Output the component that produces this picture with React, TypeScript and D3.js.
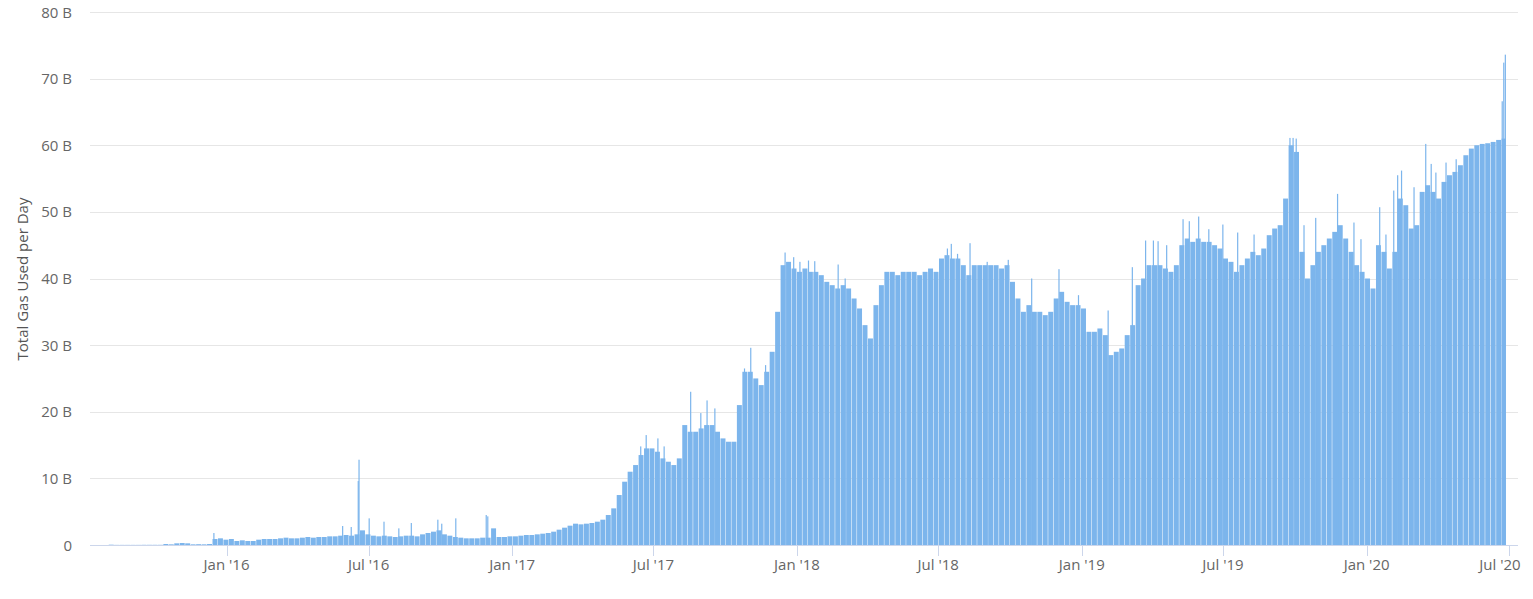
import React, { useEffect, useRef } from "react";
import * as d3 from "d3";

const WIDTH = 1533;
const HEIGHT = 599;

// first Monday of the weekly series, and the last day that has data
const firstWeek = "2015-08-03";
const lastDay = "2020-06-27";

// total gas used per day, billions, one level per week
const weeklyGas = [
  0.05, 0.02, 0.02, 0.02, 0.02, 0.02, 0.03, 0.03, 0.03, 0.03,
  0.15, 0.1, 0.25, 0.3, 0.25, 0.1, 0.12, 0.1, 0.15, 0.9,
  1.0, 0.8, 0.9, 0.6, 0.7, 0.6, 0.6, 0.8, 0.9, 0.9,
  0.9, 1.0, 1.1, 1.0, 1.0, 1.1, 1.2, 1.1, 1.2, 1.2,
  1.3, 1.3, 1.4, 1.5, 1.4, 1.6, 2.2, 1.6, 1.4, 1.3,
  1.4, 1.3, 1.2, 1.3, 1.4, 1.4, 1.3, 1.6, 1.8, 2.0,
  2.2, 1.6, 1.4, 1.2, 1.1, 1.0, 1.0, 1.0, 1.1, 1.1,
  2.5, 1.2, 1.2, 1.3, 1.3, 1.4, 1.5, 1.5, 1.6, 1.7,
  1.8, 2.0, 2.3, 2.6, 2.9, 3.2, 3.1, 3.2, 3.3, 3.5,
  3.8, 4.5, 5.5, 7.5, 9.5, 11, 12, 13.5, 14.5, 14.5,
  14, 13, 12.5, 12, 13, 18, 17, 17, 17.5, 18,
  18, 17, 16, 15.5, 15.5, 21, 26, 26, 25, 24,
  26, 29, 35, 42, 42.5, 41.5, 41, 41.5, 41, 41,
  40.5, 39.5, 39, 38.5, 39, 38.5, 37, 35.5, 33, 31,
  36, 39, 41, 41, 40.5, 41, 41, 41, 40.5, 41,
  41.5, 41, 43, 43.5, 43, 43, 42, 40.5, 42, 42,
  42, 42, 42, 41.5, 42, 39.5, 37, 35, 36, 35,
  35, 34.5, 35, 37, 38, 36.5, 36, 36, 35.5, 32,
  32, 32.5, 31.5, 28.5, 29, 29.5, 31.5, 33, 39, 40,
  42, 42, 42, 41.5, 41, 42, 45, 46, 45.5, 46,
  45.5, 45.5, 45, 44.5, 43, 42.5, 41, 42, 43, 44,
  43.5, 44.5, 46.5, 47.5, 48, 52, 60, 59, 44, 40,
  42, 44, 45, 46, 47, 48, 46, 44, 42, 41,
  40, 38.5, 45, 44, 41.5, 44, 52, 51, 47.5, 48,
  53, 54, 53, 52, 54.5, 55.5, 56, 57, 58.5, 59.5,
  60, 60.2, 60.3, 60.5, 60.8, 61,
];

// single days that stand out above their week
const spikeDays = [
  "2015-12-15", "2016-05-28", "2016-06-08", "2016-06-17", "2016-06-18",
  "2016-07-01", "2016-07-20", "2016-08-08", "2016-08-24", "2016-09-27",
  "2016-10-02", "2016-10-20", "2016-11-28", "2016-11-30", "2017-06-14",
  "2017-06-21", "2017-07-06", "2017-07-14", "2017-08-17", "2017-08-30",
  "2017-09-07", "2017-09-17", "2017-10-25", "2017-11-02", "2017-11-21",
  "2017-12-16", "2017-12-27", "2018-01-04", "2018-01-15", "2018-01-23",
  "2018-02-22", "2018-03-03", "2018-07-12", "2018-07-17", "2018-07-25",
  "2018-08-10", "2018-09-01", "2018-09-28", "2018-10-28", "2018-12-02",
  "2018-12-27", "2019-02-03", "2019-03-06", "2019-03-23", "2019-04-02",
  "2019-04-08", "2019-04-19", "2019-05-10", "2019-05-18", "2019-05-30",
  "2019-06-12", "2019-06-30", "2019-07-19", "2019-08-09", "2019-09-24",
  "2019-09-28", "2019-10-02", "2019-10-12", "2019-10-27", "2019-11-24",
  "2019-12-15", "2019-12-24", "2020-01-17", "2020-01-25", "2020-02-04",
  "2020-02-09", "2020-02-14", "2020-03-01", "2020-03-16", "2020-03-23",
  "2020-03-29", "2020-04-11", "2020-04-24", "2020-06-22", "2020-06-24",
  "2020-06-26",
];
const spikeGas = [
  1.8, 2.85, 2.7, 9.6, 12.8,
  4.0, 3.5, 2.5, 3.3, 3.8,
  3.2, 4.0, 4.5, 4.3, 14.8,
  16.5, 16.0, 14.8, 23.0, 19.8,
  21.7, 20.5, 26.5, 29.6, 27.0,
  43.9, 43.2, 42.5, 42.7, 42.6,
  42.1, 40.0, 44.5, 45.2, 43.7,
  45.3, 42.5, 42.8, 40.0, 41.4,
  37.5, 35.2, 41.7, 45.7, 45.7,
  45.6, 45.0, 48.9, 48.6, 49.3,
  47.4, 48.1, 46.9, 46.6, 61.1,
  61.1, 61.0, 48.0, 49.1, 52.7,
  48.4, 45.9, 50.7, 46.6, 53.2,
  55.5, 56.2, 53.7, 60.2, 57.2,
  55.9, 57.4, 57.9, 66.6, 72.4,
  73.6,
];

const yTicks = [0, 10, 20, 30, 40, 50, 60, 70, 80];
const xTickDates = [
  "2016-01-01", "2016-07-01", "2017-01-01", "2017-07-01", "2018-01-01",
  "2018-07-01", "2019-01-01", "2019-07-01", "2020-01-01", "2020-07-01",
];
const xTickLabels = [
  "Jan '16", "Jul '16", "Jan '17", "Jul '17", "Jan '18",
  "Jul '18", "Jan '19", "Jul '19", "Jan '20", "Jul '20",
];

const FONT = "'Open Sans', 'Liberation Sans', Arial, sans-serif";
const BAR = "#7cb5ec";

const GasChart: React.FC = () => {
  const svgRef = useRef<SVGSVGElement>(null);

  useEffect(() => {
    if (!svgRef.current) return;
    const svg = d3.select(svgRef.current);
    svg.selectAll("*").remove();

    const left = 90;
    const right = 1518;
    const top = 12;
    const bottom = 545;

    const x = d3
      .scaleUtc()
      .domain([new Date("2015-07-10"), new Date("2020-07-13")])
      .range([left, right]);
    const y = d3.scaleLinear().domain([0, 80]).range([bottom, top]);

    // grid
    svg
      .append("g")
      .selectAll("line")
      .data(yTicks.filter((v) => v > 0))
      .join("line")
      .attr("x1", left)
      .attr("x2", right)
      .attr("y1", (d) => Math.round(y(d)) + 0.5)
      .attr("y2", (d) => Math.round(y(d)) + 0.5)
      .attr("stroke", "#e6e6e6");

    // y labels
    svg
      .append("g")
      .selectAll("text")
      .data(yTicks)
      .join("text")
      .attr("x", 72)
      .attr("y", (d) => y(d) + 5.5)
      .attr("text-anchor", "end")
      .attr("font-family", FONT)
      .attr("font-size", 15)
      .attr("fill", "#666666")
      .text((d) => (d === 0 ? "0" : `${d} B`));

    // y title
    svg
      .append("text")
      .attr("transform", `translate(27.5,279) rotate(-90)`)
      .attr("text-anchor", "middle")
      .attr("font-family", FONT)
      .attr("font-size", 15)
      .attr("fill", "#555555")
      .text("Total Gas Used per Day");

    // weekly columns
    const start = new Date(firstWeek);
    const end = d3.utcDay.offset(new Date(lastDay), 1);
    const weeks = weeklyGas.map((v, i) => {
      const d0 = d3.utcDay.offset(start, 7 * i);
      const d1 = d3.utcDay.offset(d0, 7);
      return { d0, d1: d1 > end ? end : d1, v };
    });

    svg
      .append("g")
      .selectAll("rect")
      .data(weeks)
      .join("rect")
      .attr("x", (d) => x(d.d0))
      .attr("width", (d) => Math.max(0.5, x(d.d1) - x(d.d0) - 0.5))
      .attr("y", (d) => y(d.v))
      .attr("height", (d) => bottom - y(d.v))
      .attr("fill", BAR);

    // spike days
    const spikes = spikeDays.map((s, i) => ({ d: new Date(s), v: spikeGas[i] }));
    svg
      .append("g")
      .selectAll("rect")
      .data(spikes)
      .join("rect")
      .attr("x", (d) => x(d.d))
      .attr("width", (d) => Math.max(1.2, x(d3.utcDay.offset(d.d, 1)) - x(d.d)))
      .attr("y", (d) => y(d.v))
      .attr("height", (d) => bottom - y(d.v))
      .attr("fill", BAR);

    // x axis
    svg
      .append("line")
      .attr("x1", left)
      .attr("x2", right)
      .attr("y1", bottom + 0.5)
      .attr("y2", bottom + 0.5)
      .attr("stroke", "#ccd6eb");

    const ticks = xTickDates.map((s, i) => ({ d: new Date(s), label: xTickLabels[i] }));
    const tg = svg.append("g");
    tg.selectAll("line")
      .data(ticks)
      .join("line")
      .attr("x1", (d) => Math.round(x(d.d)) + 0.5)
      .attr("x2", (d) => Math.round(x(d.d)) + 0.5)
      .attr("y1", bottom)
      .attr("y2", bottom + 11)
      .attr("stroke", "#ccd6eb");

    tg.selectAll("text")
      .data(ticks)
      .join("text")
      .attr("x", (d) => Math.min(x(d.d), right - 18))
      .attr("y", 570)
      .attr("text-anchor", "middle")
      .attr("font-family", FONT)
      .attr("font-size", 15)
      .attr("fill", "#666666")
      .text((d) => d.label);
  }, []);

  return <svg ref={svgRef} width={WIDTH} height={HEIGHT} style={{ display: "block" }} />;
};

export default function App() {
  return (
    <div style={{ position: "absolute", left: 0, top: 0, background: "#fff" }}>
      <GasChart />
    </div>
  );
}
